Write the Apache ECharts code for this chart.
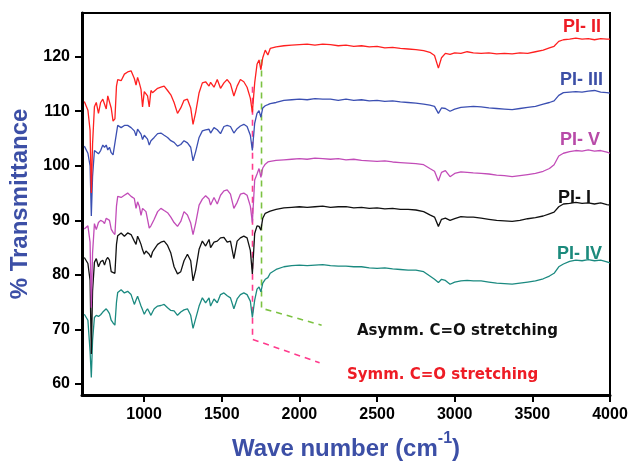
<!DOCTYPE html>
<html>
<head>
<meta charset="utf-8">
<title>FTIR spectra of PI films</title>
<script src="https://cdn.jsdelivr.net/npm/echarts@6/dist/echarts.min.js"></script>
<style>
  html, body { margin: 0; padding: 0; background: #fff; }
  #main { width: 635px; height: 466px; }
</style>
</head>
<body>
<div id="main"></div>
<script>
  // wave numbers shared by all five spectra (cm-1)
  var waveNumbers = [
    615, 638, 652, 660, 668, 680, 692, 706, 720, 734,
    745, 756, 766, 777, 788, 800, 812, 822, 830, 852,
    873, 894, 916, 937, 948, 958, 969, 980, 990, 1001,
    1012, 1022, 1033, 1044, 1054, 1065, 1087, 1108, 1129, 1151,
    1172, 1193, 1215, 1236, 1257, 1279, 1300, 1315, 1332, 1354,
    1375, 1396, 1418, 1428, 1450, 1471, 1492, 1514, 1535, 1556,
    1578, 1599, 1620, 1642, 1663, 1684, 1697, 1712, 1727, 1740,
    1752, 1764, 1780, 1797, 1812, 1850, 1900, 1950, 2000, 2050,
    2100, 2150, 2200, 2250, 2300, 2350, 2400, 2450, 2500, 2550,
    2600, 2650, 2700, 2750, 2800, 2840, 2870, 2895, 2915, 2940,
    2970, 3000, 3040, 3080, 3120, 3170, 3220, 3270, 3320, 3370,
    3420, 3470, 3520, 3570, 3610, 3640, 3670, 3700, 3740, 3780,
    3820, 3860, 3900, 3940, 3980, 4000
  ];

  // % transmittance
  var pi2 = [
    111.8, 110.2, 106.5, 95.0, 104.0, 110.8, 111.6, 109.6, 111.6, 112.2,
    112.4, 110.4, 112.8, 112.6, 110.6, 108.2, 108.6, 114.6, 115.8, 115.6,
    116.8, 117.2, 117.4, 116.0, 114.8, 116.2, 115.2, 114.0, 110.8, 113.6,
    113.8, 112.8, 110.8, 113.8, 113.4, 113.6, 114.2, 114.4, 114.6, 113.8,
    113.0, 111.6, 109.6, 110.6, 112.0, 112.2, 110.6, 107.6, 109.8, 113.4,
    115.2, 115.4, 114.6, 115.3, 114.4, 115.8, 114.2, 115.2, 115.8, 115.0,
    112.8, 114.6, 115.8, 115.4, 114.4, 112.4, 109.8, 115.2, 118.6, 119.4,
    117.6, 119.8, 121.2, 120.3, 121.5, 121.8, 122.0, 122.1, 122.2, 122.3,
    122.1, 122.3, 122.2, 122.0, 122.1, 121.9, 122.0, 121.8, 121.9, 121.6,
    121.7, 121.5, 121.4, 121.3, 121.1, 120.8, 120.2, 117.9, 119.8, 120.6,
    120.4, 120.7, 120.6, 120.9, 120.7, 120.6, 120.7, 120.5, 120.6, 120.5,
    120.7, 120.6, 120.9, 121.2, 121.6, 121.9, 122.8, 123.1, 123.2, 123.4,
    123.2, 123.3, 123.1, 123.3, 123.2, 123.2
  ];
  var pi3 = [
    103.6, 102.3, 100.0, 90.8, 98.0, 102.8, 102.6, 102.2, 102.8, 103.8,
    103.4, 103.8, 102.9, 103.4, 102.4, 102.0, 101.8, 106.0, 107.4, 107.0,
    107.4, 107.4, 107.0, 106.4, 105.5, 106.7, 106.6, 105.8, 104.8, 105.6,
    105.5, 104.9, 103.8, 104.6, 104.8, 105.2, 105.9, 106.0, 105.6, 105.2,
    104.6, 104.3, 103.6, 103.9, 104.6, 104.2, 103.4, 100.9, 102.6, 105.2,
    106.4, 106.6, 106.7, 106.0, 107.0, 106.6, 105.9, 107.2, 107.4, 107.2,
    106.0, 106.8, 107.3, 107.6, 107.2, 105.6, 102.8, 107.8, 109.6, 110.1,
    108.9, 110.6, 111.0, 111.2, 111.4, 111.6, 112.0, 112.1, 112.2, 112.1,
    112.3, 112.2, 112.2, 112.0, 112.2, 112.0, 112.1, 111.9, 112.0, 111.8,
    111.9, 111.7, 111.6, 111.5, 111.3, 111.1, 110.9, 109.6, 110.6, 110.5,
    110.0, 110.4, 110.7, 110.8, 110.9, 110.8, 110.6, 110.5, 110.4, 110.3,
    110.5, 110.7, 110.9, 111.3, 111.6, 111.9, 112.9, 113.4, 113.5, 113.6,
    113.5, 113.7, 113.8, 113.5, 113.4, 113.3
  ];
  var pi5 = [
    88.4, 89.0, 86.0, 74.0, 84.0, 89.4, 88.3, 89.6, 90.0, 89.8,
    89.4, 90.4, 90.4, 90.0, 88.4, 87.8, 87.4, 92.6, 94.4, 94.2,
    94.6, 95.0, 94.4, 94.0, 92.2, 93.4, 92.6, 90.9, 92.2, 92.0,
    91.6, 90.2, 88.6, 89.0, 89.2, 90.2, 91.6, 92.2, 91.8, 91.4,
    90.6, 89.6, 88.9, 89.8, 91.6, 91.0, 89.5, 87.4, 89.5, 92.8,
    93.9, 94.5, 93.9, 92.8, 94.2, 93.0, 94.6, 95.4, 95.6, 94.8,
    92.2, 93.3, 94.8, 95.0, 94.6, 92.6, 89.6, 97.4, 98.5, 99.5,
    97.9, 99.6, 100.3, 100.7, 100.8, 101.0, 101.1, 101.2, 101.3, 101.2,
    101.4, 101.3, 101.2, 101.3, 101.1, 101.2, 101.0, 100.9, 100.8, 100.9,
    100.7, 100.6, 100.5, 100.4, 100.2, 99.5, 99.0, 97.2, 98.8, 99.1,
    98.0, 98.6, 98.9, 98.8, 98.7, 98.6, 98.5, 98.3, 98.2, 98.0,
    98.2, 98.4, 98.6, 99.0, 99.5, 100.2, 101.8, 102.3, 102.6, 102.8,
    102.7, 102.9, 102.7, 102.8, 102.5, 102.3
  ];
  var pi1 = [
    83.2, 82.1, 79.0, 65.5, 77.0, 82.3, 83.0, 81.5, 82.4, 82.7,
    81.8, 82.8, 83.2, 82.7, 80.6, 80.4, 80.3, 85.6, 87.2, 87.7,
    87.1, 87.7, 87.4, 86.2, 85.6, 87.1, 86.4, 85.6, 84.6, 83.8,
    84.4, 84.7, 83.8, 83.2, 84.2, 84.7, 85.6, 86.0, 86.2, 85.4,
    84.0, 81.5, 80.2, 80.6, 82.6, 83.8, 82.6, 78.9, 80.9, 84.7,
    86.2, 85.3, 86.5, 85.0, 86.0, 86.2, 86.8, 86.9, 86.0, 86.2,
    83.0, 86.2, 86.8, 87.1, 86.8, 84.5, 80.2, 87.6, 89.0, 88.9,
    88.2, 90.4, 91.3, 91.5, 91.7, 92.0, 92.3, 92.4, 92.5, 92.4,
    92.5, 92.6, 92.4, 92.5, 92.5, 92.3, 92.4, 92.2, 92.3, 92.1,
    92.2, 92.0, 92.0, 91.9, 91.6, 91.0, 90.6, 88.9, 90.2, 90.4,
    90.0, 90.3, 90.7, 90.6, 90.6, 90.4, 90.2, 90.0, 89.9, 89.8,
    90.0, 90.3, 90.5, 90.8, 91.2, 91.5, 92.5, 93.0, 93.1, 93.3,
    93.1, 93.2, 93.0, 93.2, 92.9, 92.8
  ];
  var pi4 = [
    72.8, 71.7, 66.0, 61.2, 68.0, 72.2, 72.6, 72.4, 72.7, 73.2,
    73.4, 73.8, 73.4, 72.9, 71.7, 71.2, 70.8, 75.0, 76.8, 77.3,
    76.7, 77.0, 76.4, 74.6, 75.4, 76.1, 75.2, 74.3, 73.6, 72.8,
    73.4, 73.8, 73.2, 72.6, 73.2, 73.8, 74.3, 74.4, 74.6, 74.0,
    73.5, 73.4, 72.6, 73.2, 73.6, 73.8, 72.6, 70.2, 72.0, 74.3,
    75.8, 74.9, 75.8, 74.3, 75.6, 74.9, 76.4, 76.7, 76.2, 75.8,
    73.8, 75.6, 76.4, 76.7, 76.4, 75.2, 72.2, 75.4, 77.4, 77.8,
    76.9, 78.5, 79.2, 79.5, 80.3, 81.0, 81.5, 81.7, 81.8, 81.7,
    81.8, 81.9, 81.7, 81.6, 81.6, 81.5, 81.5, 81.3, 81.2, 81.3,
    81.1, 81.0, 80.9, 80.9, 80.6, 79.8, 79.2, 78.6, 79.2, 79.0,
    78.3, 78.7, 78.9, 79.0, 78.9, 78.9, 78.7, 78.5, 78.4, 78.3,
    78.5, 78.7, 78.9, 79.3, 79.8, 80.3, 81.5, 82.0, 82.5, 82.7,
    82.6, 82.8, 82.6, 82.7, 82.4, 82.2
  ];

  var xTicks = [1000, 1500, 2000, 2500, 3000, 3500, 4000];
  var yTicks = [60, 70, 80, 90, 100, 110, 120];

  // dashed guides for the C=O bands: [wave number, transmittance]
  var symmGuide = [[1698, 114.5], [1698, 68.2], [2130, 63.9]];
  var asymGuide = [[1756, 119.5], [1756, 73.9], [2143, 70.8]];

  var blue = '#3c4fa6';
  var font = "'Liberation Sans', Arial, sans-serif";
  var wideFont = "'DejaVu Sans', Verdana, sans-serif";

  function spectrum(name, values, color) {
    return {
      name: name,
      type: 'line',
      data: waveNumbers.map(function (w, i) { return [w, values[i]]; }),
      symbol: 'none',
      lineStyle: { color: color, width: 1.3 },
      z: 3
    };
  }

  function guide(points, color) {
    return {
      type: 'line',
      data: points,
      symbol: 'none',
      silent: true,
      lineStyle: { color: color, width: 1.6, type: [6, 5] },
      z: 2
    };
  }

  function label(text, x, y, color, size) {
    return {
      type: 'text',
      style: {
        text: text, x: x, y: y, align: 'right', verticalAlign: 'middle',
        font: 'bold ' + size + 'px ' + font, fill: color
      }
    };
  }

  function plain(v) { return String(v); }

  var chart = echarts.init(document.getElementById('main'));
  chart.setOption({
    animation: false,
    grid: {
      left: 79, right: 25, top: 13, bottom: 61,
      show: true, borderColor: '#000', borderWidth: 2
    },
    xAxis: {
      type: 'value', min: 600, max: 4000,
      axisLine: { lineStyle: { color: '#000', width: 3 } },
      axisTick: { customValues: xTicks, length: 7, lineStyle: { color: '#000', width: 2 } },
      axisLabel: {
        customValues: xTicks, formatter: plain, margin: 12, color: '#000',
        fontSize: 16, fontWeight: 'bold', fontFamily: font
      },
      splitLine: { show: false },
      name: '{t|Wave number (cm}{s|-1}{t|)}',
      nameLocation: 'middle', nameGap: 36,
      nameTextStyle: {
        rich: {
          t: { fontSize: 24, fontWeight: 'bold', fontFamily: font, color: blue, lineHeight: 30, verticalAlign: 'bottom' },
          s: { fontSize: 16, fontWeight: 'bold', fontFamily: font, color: blue, lineHeight: 16, verticalAlign: 'top' }
        }
      }
    },
    yAxis: {
      type: 'value', min: 58, max: 128,
      axisLine: { lineStyle: { color: '#000', width: 3 } },
      axisTick: { customValues: yTicks, length: 7, lineStyle: { color: '#000', width: 2 } },
      axisLabel: {
        customValues: yTicks, formatter: plain, margin: 12, color: '#000',
        fontSize: 16, fontWeight: 'bold', fontFamily: font
      },
      splitLine: { show: false },
      name: '% Transmittance',
      nameLocation: 'middle', nameGap: 50, nameRotate: 90,
      nameTextStyle: { fontSize: 24, fontWeight: 'bold', fontFamily: font, color: blue }
    },
    series: [
      guide(symmGuide, '#ff3b8d'),
      guide(asymGuide, '#7cc242'),
      spectrum('PI- IV', pi4, '#1b8a80'),
      spectrum('PI- I', pi1, '#111111'),
      spectrum('PI- V', pi5, '#c24cb8'),
      spectrum('PI- III', pi3, '#3b4fb2'),
      spectrum('PI- II', pi2, '#ff2020')
    ],
    graphic: [
      label('PI- II', 601, 27, '#ee1c25', 18),
      label('PI- III', 603, 80, blue, 18),
      label('PI- V', 600, 140, '#b84aa8', 18),
      label('PI- I', 591, 198, '#111', 18),
      label('PI- IV', 602, 254, '#1b8a7c', 18),
      {
        type: 'text',
        style: { text: 'Asymm. C=O stretching', x: 357, y: 331, verticalAlign: 'middle',
          font: 'bold 15px ' + wideFont, fill: '#111' }
      },
      {
        type: 'text',
        style: { text: 'Symm. C=O stretching', x: 347, y: 375, verticalAlign: 'middle',
          font: 'bold 15px ' + wideFont, fill: '#ee1c25' }
      }
    ]
  });
</script>
</body>
</html>
